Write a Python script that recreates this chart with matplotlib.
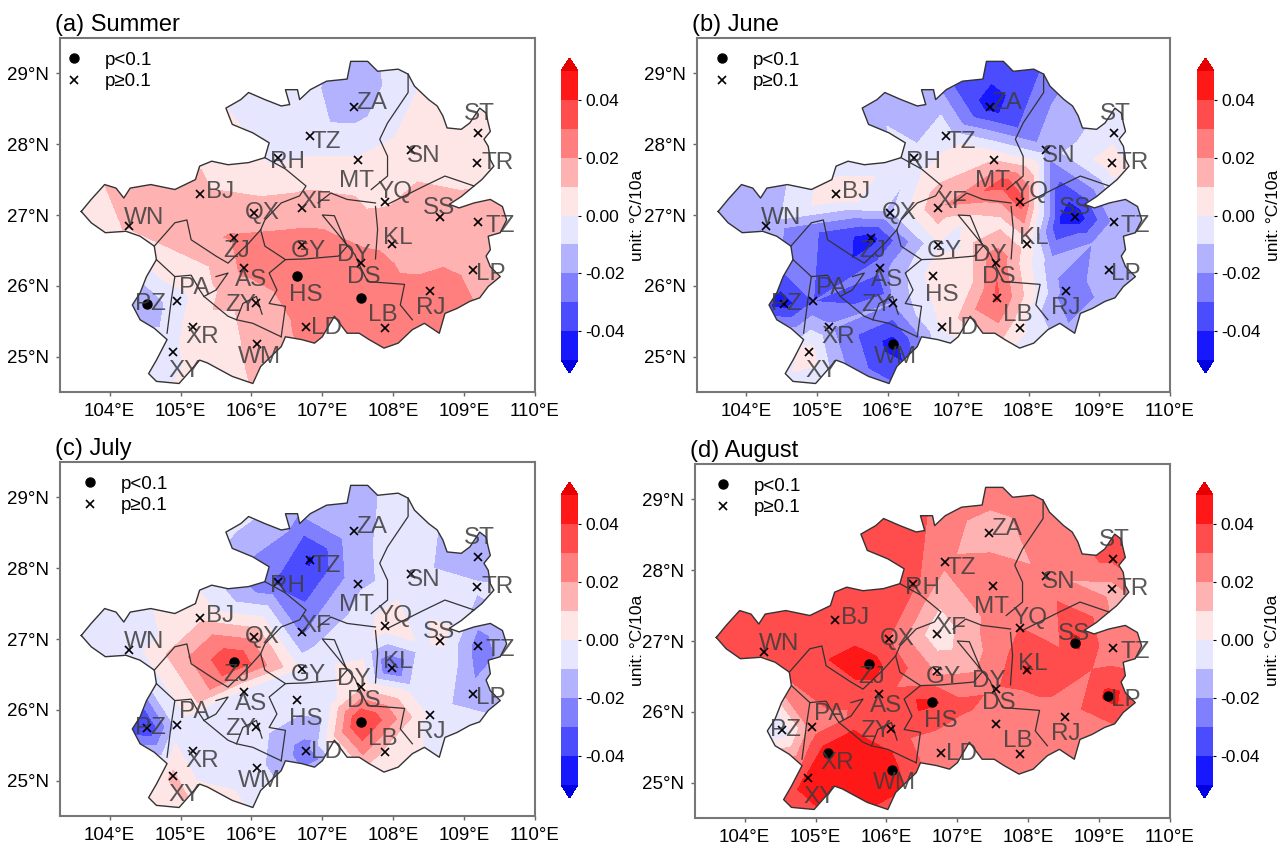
import matplotlib
matplotlib.use('Agg')
import matplotlib.pyplot as plt
import numpy as np
from matplotlib.patches import Polygon
from matplotlib.tri import Triangulation

plt.rcParams['font.family'] = ['Liberation Sans', 'DejaVu Sans']

# stations
names = ['ZA','TZ','RH','MT','SN','ST','TR','BJ','XF','YQ','SS','TZ','QX','WN','ZJ','GY','KL','DY','AS','HS','LP','RJ','DS','PZ','PA','ZY','XR','LD','LB','WM','XY']
st_lon = [107.45,106.83,106.38,107.50,108.25,109.20,109.18,105.27,106.71,107.88,108.66,109.20,106.03,104.28,105.76,106.72,107.98,107.54,105.89,106.64,109.13,108.52,107.55,104.53,104.95,106.07,105.17,106.77,107.88,106.08,104.89]
st_lat = [28.53,28.12,27.81,27.77,27.92,28.16,27.73,27.29,27.10,27.19,26.97,26.90,27.03,26.85,26.67,26.58,26.59,26.32,26.25,26.14,26.23,25.92,25.83,25.75,25.78,25.76,25.42,25.42,25.41,25.18,25.07]
lab_lon = [107.69,107.05,106.51,107.48,108.43,109.22,109.47,105.56,106.91,108.03,108.65,109.51,106.16,104.49,105.79,106.80,108.07,107.45,105.99,106.77,109.38,108.53,107.58,104.57,105.20,105.85,105.30,107.06,107.85,106.11,105.06]
lab_lat = [28.58,28.03,27.75,27.48,27.83,28.42,27.73,27.33,27.19,27.33,27.10,26.84,27.03,26.96,26.49,26.49,26.67,26.44,26.08,25.87,26.16,25.68,26.13,25.75,25.97,25.73,25.28,25.40,25.59,25.00,24.79]

# control points besides the stations, so the field reaches the border and keeps its blobs
ex_lon = [103.5,104.2,105.3,105.6,106.6,107.5,108.4,109.5,109.8,109.8,109.6,108.6,107.6,106.5,105.3,104.4,104.0,103.7,107.65,107.0,108.45,105.85,107.6,108.9,107.1,108.3]
ex_lat = [27.1,27.6,28.0,28.7,29.0,29.4,29.2,28.6,27.5,26.5,25.7,25.0,24.9,24.4,24.4,24.5,25.6,26.5,27.45,26.8,26.9,26.0,26.9,26.6,26.1,26.3]

summer = [-0.015,-0.006,-0.002,0.001,0.006,0.006,0.006,0.012,0.015,0.009,0.014,0.015,0.015,0.011,0.021,0.024,0.017,0.025,0.022,0.029,0.018,0.025,0.028,-0.018,-0.004,0.013,0.004,0.023,0.026,0.012,-0.002,
          0.005,0.013,0.008,-0.001,-0.006,-0.014,-0.003,0.005,0.006,0.015,0.016,0.025,0.027,0.014,0.004,-0.003,-0.015,0.005,0.006,0.02,
          0.015,0.018,0.012,0.015,0.029,0.017]
june = [-0.045,-0.005,-0.008,0.01,-0.015,-0.004,0.006,0.008,0.018,0.035,-0.048,-0.018,-0.012,-0.015,-0.045,-0.001,0.005,0.028,-0.025,0.004,-0.015,-0.025,0.032,-0.045,-0.03,-0.02,-0.018,0.001,0.002,-0.045,0.005,
        -0.012,-0.02,-0.015,-0.012,-0.02,-0.032,-0.025,-0.012,-0.008,-0.012,-0.012,-0.015,0.0,-0.03,-0.012,-0.005,-0.03,-0.015,0.035,-0.002,
        -0.042,-0.04,0.006,-0.02,0.003,-0.015]
july = [-0.012,-0.042,-0.032,-0.012,-0.006,-0.018,-0.008,0.008,-0.022,0.006,0.003,-0.025,0.018,-0.006,0.04,-0.002,-0.032,0.008,-0.003,-0.004,-0.018,-0.002,0.043,-0.04,-0.007,-0.005,-0.007,-0.025,0.008,-0.007,0.012,
        -0.005,-0.005,-0.008,-0.004,-0.012,-0.012,-0.006,-0.006,-0.005,-0.012,-0.004,-0.002,-0.003,-0.005,0.01,-0.005,-0.025,-0.004,-0.005,-0.004,
        -0.002,-0.004,-0.004,-0.01,-0.003,-0.005]
august = [0.014,0.022,0.032,0.03,0.022,0.032,0.016,0.033,0.003,0.03,0.043,0.022,0.03,0.032,0.045,0.018,0.041,0.028,0.035,0.042,0.043,0.022,0.021,-0.008,0.024,0.036,0.046,0.02,0.022,0.043,0.042,
          0.033,0.033,0.033,0.033,0.03,0.03,0.032,0.032,0.025,0.03,0.032,0.03,0.028,0.035,0.04,0.035,-0.005,0.033,0.028,0.012,
          0.03,0.035,0.025,0.03,0.033,0.032]

# stations with p<0.1 in each panel
sig_summer = ['PZ','HS','DS']
sig_june = ['WM']
sig_july = ['ZJ','DS']
sig_august = ['ZJ','HS','SS','LP','XR','WM']

titles = ['(a) Summer','(b) June','(c) July','(d) August']
levels = [-0.05,-0.04,-0.03,-0.02,-0.01,0.0,0.01,0.02,0.03,0.04,0.05]
cb_ticks = [-0.04,-0.02,0.0,0.02,0.04]
xticks = [104,105,106,107,108,109,110]
yticks = [25,26,27,28,29]

# province outline
border_lon = [103.60,103.74,103.93,104.09,104.20,104.29,104.58,104.92,105.21,105.27,105.44,105.67,105.96,106.19,106.25,106.02,105.73,105.64,105.85,105.96,106.19,106.42,106.54,106.48,106.65,106.68,106.83,107.06,107.35,107.40,107.64,107.78,108.07,108.21,108.30,108.50,108.62,108.70,108.76,108.96,109.08,109.22,109.31,109.34,109.37,109.28,109.34,109.37,109.42,109.25,109.14,108.96,108.79,108.93,109.14,109.37,109.54,109.60,109.51,109.34,109.37,109.31,109.37,109.51,109.34,109.22,109.08,108.90,108.73,108.65,108.44,108.27,108.07,107.87,107.66,107.52,107.35,107.17,107.00,106.89,106.71,106.48,106.42,106.13,106.02,105.73,105.38,105.27,104.98,104.66,104.55,104.66,104.81,104.63,104.43,104.32,104.43,104.52,104.66,104.63,104.43,104.23,103.94,103.74]
border_lat = [27.05,27.22,27.43,27.38,27.24,27.38,27.43,27.36,27.50,27.69,27.76,27.71,27.74,27.81,28.02,28.16,28.28,28.51,28.63,28.73,28.63,28.54,28.56,28.77,28.77,28.63,28.77,28.89,28.92,29.17,29.17,29.03,29.06,28.99,28.82,28.63,28.54,28.40,28.23,28.21,28.30,28.51,28.44,28.30,28.18,28.07,27.97,27.78,27.69,27.50,27.41,27.26,27.15,27.10,27.17,27.22,27.12,26.93,26.75,26.70,26.51,26.42,26.27,26.13,25.99,25.83,25.78,25.68,25.61,25.33,25.47,25.38,25.19,25.12,25.24,25.33,25.33,25.57,25.28,25.19,25.24,25.28,25.14,24.86,24.62,24.72,24.91,24.95,24.62,24.65,24.76,24.95,25.24,25.40,25.52,25.73,25.90,26.13,26.37,26.56,26.70,26.77,26.75,26.89]

# prefecture lines (lon list, lat list)
pref_lines = [
    ([106.19,106.48,106.77,106.68,106.42,106.19,106.13],[27.81,27.65,27.41,27.27,27.17,26.93,26.79]),
    ([104.63,104.92,105.09,105.15,105.50,105.67,105.96,106.13],[26.56,26.89,26.93,26.65,26.42,26.32,26.60,26.79]),
    ([104.66,104.92,105.15,105.27,105.33,105.67,105.79,106.02,106.42],[26.37,26.13,26.15,25.94,25.85,25.57,25.52,25.47,25.28]),
    ([104.92,104.87,104.81],[26.13,25.80,25.33]),
    ([105.50,105.67,105.50,105.33],[26.13,26.18,25.94,25.85]),
    ([105.79,105.88,106.07,106.15],[25.52,25.75,25.85,25.60]),
    ([106.13,106.19,106.48,106.25,106.36,106.25,106.48,106.42],[26.79,26.56,26.37,26.18,25.94,25.75,25.71,25.28]),
    ([106.48,106.77,107.23,107.35,107.17,107.00,107.46,107.52,107.64,108.16,108.10,108.27],[26.37,26.38,26.42,26.56,26.99,27.00,26.44,26.30,26.06,26.02,25.73,25.52]),
    ([108.21,108.21,107.92,107.81,107.92,107.92,107.69],[28.99,28.73,28.30,28.07,27.83,27.55,27.36]),
    ([107.92,108.44,108.73,109.14],[27.15,27.41,27.55,27.41]),
    ([106.94,107.12,107.35,107.75],[27.17,27.31,27.22,27.17]),
    ([107.75,107.78,107.75],[27.12,26.80,26.38]),
]

panel_vals = [summer, june, july, august]
panel_sig = [sig_summer, sig_june, sig_july, sig_august]
# pixel boxes: axes and colorbar (left, top, right, bottom)
ax_box = [(60,38,535,392),(697,38,1170,392),(60,462,535,816),(695,464,1170,818)]
cb_box = [(561,58,578,373),(1197,58,1214,373),(561,482,578,798),(1196,482,1213,798)]
leg_x = [0.0, 0.023, 0.034, 0.03]

W, H = 1285, 844
fig = plt.figure(figsize=(W/100, H/100), dpi=100)

def rect(b):
    return [b[0]/W, 1-b[3]/H, (b[2]-b[0])/W, (b[3]-b[1])/H]

cmap = plt.get_cmap('bwr').with_extremes(over='#e60000', under='#0000e0')
tri = Triangulation(st_lon+ex_lon, st_lat+ex_lat)

for i in range(4):
    ax = fig.add_axes(rect(ax_box[i]))
    cs = ax.tricontourf(tri, panel_vals[i], levels=levels, cmap=cmap, extend='both',
                        vmin=-0.05, vmax=0.05)
    clip = Polygon(np.column_stack([border_lon, border_lat]), closed=True, transform=ax.transData)
    cs.set_clip_path(clip)
    ax.plot(border_lon+border_lon[:1], border_lat+border_lat[:1], color='#333333', lw=1.0)
    for lx, ly in pref_lines:
        ax.plot(lx, ly, color='#333333', lw=0.9)

    for n, x, y, lx, ly in zip(names, st_lon, st_lat, lab_lon, lab_lat):
        if n in panel_sig[i]:
            ax.plot(x, y, 'o', color='k', ms=6.5)
        else:
            ax.plot(x, y, 'x', color='k', ms=6, mew=1.2)
        ax.text(lx, ly, n, fontsize=17.5, color='#3c3c3c', alpha=0.85, ha='center', va='center')

    ax.plot([], [], 'o', color='k', ms=6.5, label='p<0.1')
    ax.plot([], [], 'x', color='k', ms=6, mew=1.2, label='p≥0.1')
    ax.legend(loc='upper left', frameon=False, fontsize=13.5, labelspacing=0.25,
              handlelength=1.0, handletextpad=1.15, borderpad=0.25, borderaxespad=0,
              bbox_to_anchor=(leg_x[i], 0.975))

    ax.set_xlim(103.3, 110)
    ax.set_ylim(24.5, 29.5)
    ax.set_xticks(xticks)
    ax.set_xticklabels(['%d°E' % v for v in xticks])
    ax.set_yticks(yticks)
    ax.set_yticklabels(['%d°N' % v for v in yticks])
    ax.tick_params(labelsize=13.5, length=3, color='#666666', width=1, pad=5)
    for s in ax.spines.values():
        s.set_color('#777777')
        s.set_linewidth(1.5)
    ax.set_title(titles[i], loc='left', fontsize=17, pad=5, x=-0.01)

    cax = fig.add_axes(rect(cb_box[i]))
    cb = fig.colorbar(cs, cax=cax, extend='both', extendfrac=0.045, ticks=cb_ticks, drawedges=False)
    cb.ax.set_yticklabels(['%.2f' % v for v in cb_ticks])
    cb.ax.tick_params(labelsize=12.5, length=2, width=0.8, pad=3)
    cb.outline.set_visible(False)
    cb.set_label('unit: °C/10a', fontsize=12.5, labelpad=4)

fig.savefig('out.png', dpi=100)
